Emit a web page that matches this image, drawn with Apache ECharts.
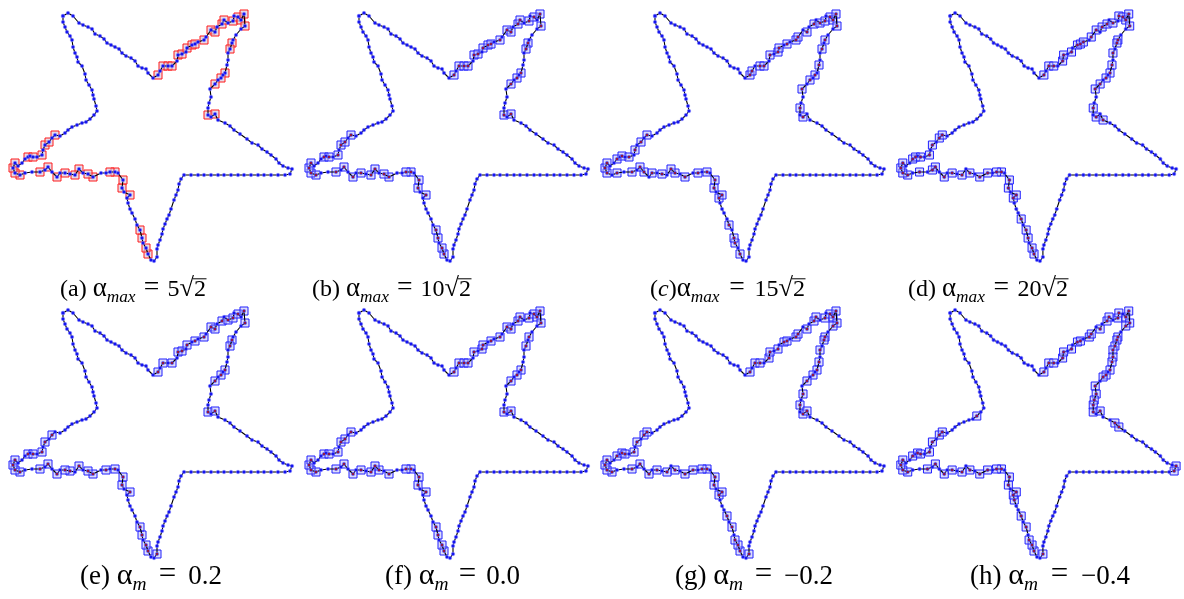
<!DOCTYPE html>
<html><head><meta charset="utf-8">
<script src="https://cdn.jsdelivr.net/npm/echarts@6/dist/echarts.min.js"></script>
<style>html,body{margin:0;padding:0;background:#fff}#c{width:1184px;height:599px}</style>
</head><body><div id="c"></div><script>
// Star outline (panel-local units)
const outline = [
[63,16],[68,13],[73,16],[79,23],[83,25],[88,27],[92,29],[95,34],[100,36],[104,39],
[107,43],[111,45],[115,47],[119,49],[122,53],[126,56],[131,58],[135,61],[138,66],[142,68],
[146,69],[148,73],[153,78],[158,75],[160,71],[163,66],[168,66],[172,66],[177,61],[178,55],
[182,54],[186,52],[187,48],[192,45],[195,44],[198,42],[204,40],[206,37],[211,30],[215,32],
[217,27],[222,24],[224,20],[228,23],[233,21],[234,16],[238,17],[241,20],[244,14],[245,26],
[241,29],[236,35],[233,40],[232,43],[230,49],[228,53],[228,60],[227,65],[225,73],[223,75],
[221,78],[218,80],[215,84],[210,89],[211,97],[209,103],[208,108],[208,115],[211,117],[215,114],
[218,120],[225,123],[230,126],[234,130],[240,134],[247,139],[252,143],[258,145],[262,149],[267,152],
[271,155],[276,159],[279,163],[283,166],[288,168],[292,169],[290,174],[285,175],[278,175],[271,175],
[264,175],[258,175],[251,175],[244,175],[238,175],[231,175],[224,175],[218,175],[211,175],[204,175],
[198,175],[191,175],[184,175],[181,179],[179,184],[178,190],[176,195],[174,200],[171,209],[169,215],
[167,219],[165,224],[163,229],[162,234],[160,240],[158,245],[157,249],[157,257],[154,261],[151,260],
[148,254],[146,248],[143,243],[142,238],[140,230],[137,225],[135,219],[132,213],[130,209],[128,203],
[127,198],[130,195],[124,192],[122,188],[123,180],[118,173],[115,172],[110,172],[106,173],[101,173],
[93,177],[88,174],[83,173],[79,169],[75,175],[70,174],[65,173],[60,173],[57,177],[52,172],
[48,167],[45,170],[40,172],[32,172],[25,173],[20,175],[15,173],[13,168],[15,163],[18,166],
[22,163],[25,159],[28,157],[30,156],[33,157],[37,157],[42,155],[43,150],[45,145],[49,142],
[52,138],[55,135],[60,136],[65,133],[68,130],[72,127],[77,125],[82,123],[86,122],[90,119],
[94,115],[97,111],[96,106],[94,99],[93,95],[92,90],[89,85],[86,80],[85,74],[82,66],
[78,62],[77,57],[75,53],[73,47],[72,40],[70,36],[67,32],[65,27],[63,22]
];
// Indices of outline points marked with squares, per panel
const squaresA = [23,25,26,27,29,30,32,33,34,36,38,39,41,42,44,46,47,48,49,53,54,58,60,62,67,69,120,121,123,124,131,133,134,136,137,140,141,143,144,146,148,150,152,155,156,157,158,162,164,166,168,169,171];
const squaresB = [23,25,26,27,29,30,32,33,34,36,38,39,41,42,44,46,48,49,53,54,58,60,62,67,69,120,121,123,124,131,133,134,136,137,140,141,143,144,146,148,150,152,155,156,157,158,162,164,166,168,169,171];
const squaresC = [23,24,26,27,29,31,32,34,36,37,39,41,43,44,46,47,48,49,52,54,57,59,61,63,66,68,120,122,123,125,130,131,133,134,136,138,140,142,143,145,147,149,150,152,154,156,157,158,161,163,165,167,169,171];
const squaresD = [23,25,26,28,29,31,33,34,35,37,38,40,41,43,45,46,47,48,49,52,53,55,57,58,60,62,63,66,68,70,120,121,123,124,126,130,131,133,134,136,137,139,140,142,144,146,148,150,151,153,155,156,157,158,161,162,164,166,168,170,171];
const squaresE = [23,25,27,29,30,32,34,36,38,39,41,43,44,46,48,49,53,54,58,60,62,67,69,117,120,121,123,124,131,133,134,136,138,140,141,143,145,146,148,150,152,155,156,157,158,162,164,166,168,170];
const squaresF = [23,25,26,27,29,31,32,34,36,38,39,41,42,44,46,47,48,49,52,54,58,60,62,67,69,120,121,123,124,131,133,134,136,137,140,142,143,144,146,148,150,152,155,156,157,158,162,164,166,168,169,171];
const squaresG = [23,25,26,28,29,31,33,34,36,37,39,41,42,44,46,47,48,49,50,52,53,55,57,58,60,62,64,66,68,69,117,120,121,122,124,126,130,131,133,134,136,137,139,140,142,144,146,148,150,152,155,156,157,158,161,163,164,166,168,170,171];
const squaresH = [23,25,26,28,29,31,33,34,36,37,39,41,42,44,45,47,48,49,50,52,53,54,55,56,57,58,60,61,63,64,65,66,67,69,72,73,85,86,117,120,121,122,124,126,129,130,131,133,134,136,137,139,140,142,144,146,148,150,152,155,156,157,158,161,163,164,166,168,170,171,179];
// Captions: [text, kind] n=normal, i=italic, g=greek, s=subscript, e=equals, r=radical, o=overlined, _=flexible gap
const captions = [
 [['(a) ','n'],['α','g'],['max','s'],['','_'],['=','e'],['','_'],['5','n'],['√','r'],['2','o']],
 [['(b) ','n'],['α','g'],['max','s'],['','_'],['=','e'],['','_'],['10','n'],['√','r'],['2','o']],
 [['(','n'],['c','i'],[')','n'],['α','g'],['max','s'],['','_'],['=','e'],['','_'],['15','n'],['√','r'],['2','o']],
 [['(d) ','n'],['α','g'],['max','s'],['','_'],['=','e'],['','_'],['20','n'],['√','r'],['2','o']],
 [['(e) ','n'],['α','g'],['m','s'],['','_'],['=','e'],['','_'],['0.2','n']],
 [['(f) ','n'],['α','g'],['m','s'],['','_'],['=','e'],['','_'],['0.0','n']],
 [['(g) ','n'],['α','g'],['m','s'],['','_'],['=','e'],['','_'],['−0.2','n']],
 [['(h) ','n'],['α','g'],['m','s'],['','_'],['=','e'],['','_'],['−0.4','n']]
];

const panels = [
 {sq:squaresA, ox:0,   oy:0,   red:true,  x0:60,  x1:206,  by:298, fs:24},
 {sq:squaresB, ox:296, oy:0,   red:false, x0:312, x1:471,  by:298, fs:24},
 {sq:squaresC, ox:592, oy:0,   red:false, x0:650, x1:805,  by:298, fs:24},
 {sq:squaresD, ox:888, oy:0,   red:false, x0:908, x1:1068, by:298, fs:24},
 {sq:squaresE, ox:0,   oy:297, red:false, x0:80,  x1:222,  by:586, fs:27},
 {sq:squaresF, ox:296, oy:297, red:false, x0:385, x1:520,  by:586, fs:27},
 {sq:squaresG, ox:592, oy:297, red:false, x0:675, x1:833,  by:586, fs:27},
 {sq:squaresH, ox:888, oy:297, red:false, x0:970, x1:1130, by:586, fs:27}
];

const FAM = '"Liberation Serif", "Times New Roman", serif';
const cv = document.createElement('canvas').getContext('2d');
function measure(t, f){ cv.font = f; return cv.measureText(t).width; }
function caption(pieces, p){
  const fs = p.fs;
  const kinds = {
    n:{size:fs, it:false, dy:0},
    i:{size:fs, it:true, dy:0},
    g:{size:fs*1.12, it:false, dy:0},
    s:{size:fs*0.72, it:true, dy:fs*0.22},
    e:{size:fs*1.15, it:false, dy:-fs*0.02},
    r:{size:fs*1.1, it:false, dy:0},
    o:{size:fs, it:false, dy:0},
    _:{size:fs, it:false, dy:0}
  };
  const items = pieces.map(([t,k])=>{
    const K = kinds[k];
    const font = (K.it?'italic ':'') + K.size.toFixed(1) + 'px ' + FAM;
    return {t, k, K, font, w: k==='_' ? 0 : measure(t, font)};
  });
  const nat = items.reduce((s,it)=>s+it.w,0);
  const gaps = items.filter(it=>it.k==='_').length;
  let gap = Math.max(fs*0.18, (p.x1 - p.x0 - nat)/gaps);
  const total = nat + gap*gaps;
  const sx = Math.min(1, (p.x1 - p.x0)/total);
  let x = 0; const ch = [];
  items.forEach(it=>{
    if(it.k==='_'){ x += gap; return; }
    ch.push({type:'text', x:x, y:it.K.dy - 0.34*it.K.size, silent:true,
      style:{text:it.t, font:it.font, fill:'#000', verticalAlign:'middle', align:'left'}});
    if(it.k==='o'){
      const yy = -0.8*fs;
      ch.push({type:'line', silent:true, shape:{x1:x-1, y1:yy, x2:x+it.w+0.5, y2:yy}, style:{stroke:'#000', lineWidth:1}});
    }
    x += it.w;
  });
  return {type:'group', x: p.x0, y: p.by, scaleX: sx, children: ch};
}

const grid=[], xAxis=[], yAxis=[], series=[], graphic=[];
const closed = outline.concat([outline[0]]);
panels.forEach((p,i)=>{
  grid.push({left:p.ox, top:p.oy, width:300, height:270});
  xAxis.push({gridIndex:i, type:'value', min:0, max:300, show:false});
  yAxis.push({gridIndex:i, type:'value', min:0, max:270, inverse:true, show:false});
  const pts = p.sq.map(k=>outline[k]);
  series.push({type:'scatter', xAxisIndex:i, yAxisIndex:i, data:pts, symbol:'rect', symbolSize:8,
    itemStyle:{color: p.red ? 'rgba(215,195,215,0.6)' : 'rgba(185,185,240,0.45)',
               borderColor: p.red ? '#ff1a1a' : '#2020ff', borderWidth:1, opacity:1},
    z:2, silent:true, animation:false});
  series.push({type:'line', xAxisIndex:i, yAxisIndex:i, data:closed, symbol:'circle', symbolSize:3.5, showSymbol:true,
    lineStyle:{color:'#000', width:1.1}, itemStyle:{color:'#1515f0', borderColor:'rgba(130,130,255,0.55)', borderWidth:1},
    z:3, silent:true, animation:false});
  if(!p.red){
    series.push({type:'scatter', xAxisIndex:i, yAxisIndex:i, data:pts, symbol:'circle', symbolSize:2.5,
      itemStyle:{color:'#b01818'}, z:4, silent:true, animation:false});
  }
  graphic.push(caption(captions[i], p));
});

const chart = echarts.init(document.getElementById('c'), null, {renderer:'canvas'});
chart.setOption({animation:false, backgroundColor:'#fff', grid, xAxis, yAxis, series, graphic});
</script></body></html>
